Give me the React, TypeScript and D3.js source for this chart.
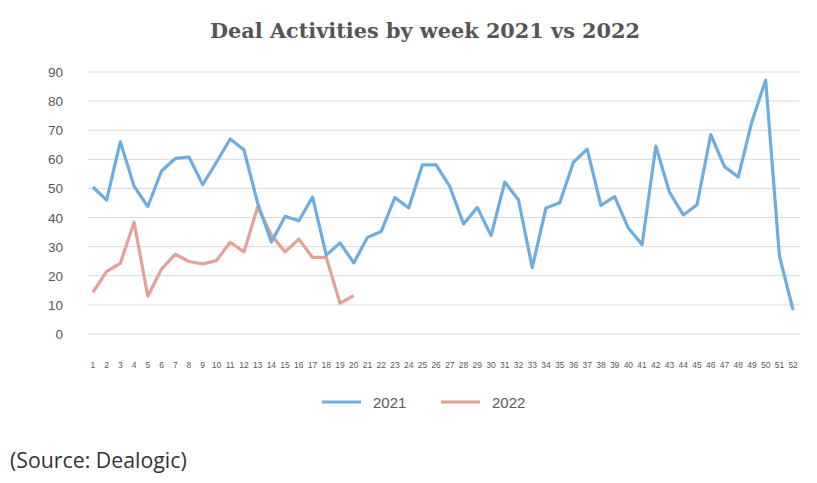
import { useEffect, useRef } from "react";
import * as d3 from "d3";

const weeks = d3.range(1, 53).map(String);

const deals2021 = [
  50.5, 46, 66, 50.8, 43.8, 56, 60.3, 60.8, 51.3, 59, 67, 63.3, 45, 31.6, 40.4,
  38.9, 47, 27.1, 31.3, 24.4, 33.2, 35.2, 46.9, 43.3, 58.1, 58.1, 50.6, 37.8,
  43.5, 33.8, 52.2, 46, 22.8, 43.3, 45.1, 59, 63.5, 44.2, 47.2, 36.4, 30.7,
  64.5, 48.7, 40.9, 44.4, 68.5, 57.5, 53.9, 73, 87.2, 26.8, 8.2,
];

const deals2022 = [
  14.3, 21.5, 24.3, 38.4, 13, 22.3, 27.4, 24.9, 24.1, 25.2, 31.5, 28.2, 43.6,
  34, 28.2, 32.6, 26.3, 26.3, 10.6, 13.2,
];

const yTicks = [0, 10, 20, 30, 40, 50, 60, 70, 80, 90];

const seriesList = [
  { name: "2021", values: deals2021, color: "#6dade0" },
  { name: "2022", values: deals2022, color: "#e4a197" },
];

const width = 817;
const height = 483;
const margin = { top: 72, right: 17, bottom: 149, left: 86 };

const App = () => {
  const svgRef = useRef<SVGSVGElement>(null);

  useEffect(() => {
    const svg = d3.select(svgRef.current);
    svg.selectAll("*").remove();

    const innerW = width - margin.left - margin.right;

    const xScale = d3
      .scaleBand()
      .domain(weeks)
      .range([margin.left, margin.left + innerW])
      .padding(0);

    const yScale = d3
      .scaleLinear()
      .domain([0, 90])
      .range([height - margin.bottom, margin.top]);

    const cx = (i: number) => (xScale(weeks[i]) ?? 0) + xScale.bandwidth() / 2;

    // Title
    svg
      .append("text")
      .attr("x", 425)
      .attr("y", 38)
      .attr("text-anchor", "middle")
      .attr("font-family", "'DejaVu Serif', serif")
      .attr("font-weight", "bold")
      .attr("font-size", 20)
      .attr("fill", "#555555")
      .attr("textLength", 430)
      .attr("lengthAdjust", "spacingAndGlyphs")
      .text("Deal Activities by week 2021 vs 2022");

    // Grid lines
    svg
      .append("g")
      .selectAll("line")
      .data(yTicks)
      .enter()
      .append("line")
      .attr("x1", 88)
      .attr("x2", 800)
      .attr("y1", (d) => yScale(d))
      .attr("y2", (d) => yScale(d))
      .attr("stroke", "#d9d9d9")
      .attr("stroke-width", 1);

    // Y labels
    svg
      .append("g")
      .selectAll("text")
      .data(yTicks)
      .enter()
      .append("text")
      .attr("x", 63)
      .attr("y", (d) => yScale(d) + 5)
      .attr("text-anchor", "end")
      .attr("font-family", "'Liberation Sans', Arial, sans-serif")
      .attr("font-size", 13.5)
      .attr("fill", "#595959")
      .text((d) => d);

    // X labels
    svg
      .append("g")
      .selectAll("text")
      .data(weeks)
      .enter()
      .append("text")
      .attr("x", (_d, i) => cx(i))
      .attr("y", 368)
      .attr("text-anchor", "middle")
      .attr("font-family", "'Liberation Sans', Arial, sans-serif")
      .attr("font-size", 8.5)
      .attr("fill", "#595959")
      .text((d) => d);

    // Lines
    const line = d3
      .line<number>()
      .x((_d, i) => cx(i))
      .y((d) => yScale(d));

    seriesList
      .slice()
      .reverse()
      .forEach((s) => {
        svg
          .append("path")
          .datum(s.values)
          .attr("d", line)
          .attr("fill", "none")
          .attr("stroke", s.color)
          .attr("stroke-width", 3.2)
          .attr("stroke-linejoin", "round");
      });

    // Legend
    const legend = svg.append("g");
    seriesList.forEach((s, i) => {
      const lx = 322 + i * 119;
      legend
        .append("line")
        .attr("x1", lx)
        .attr("x2", lx + 39)
        .attr("y1", 402)
        .attr("y2", 402)
        .attr("stroke", s.color)
        .attr("stroke-width", 3);
      legend
        .append("text")
        .attr("x", lx + 51)
        .attr("y", 408)
        .attr("font-family", "'Liberation Sans', Arial, sans-serif")
        .attr("font-size", 15)
        .attr("fill", "#595959")
        .text(s.name);
    });

    // Source
    svg
      .append("text")
      .attr("x", 10)
      .attr("y", 468)
      .attr("font-family", "'Open Sans', sans-serif")
      .attr("font-size", 21.3)
      .attr("fill", "#333333")
      .text("(Source: Dealogic)");
  }, []);

  return (
    <svg
      ref={svgRef}
      width={width}
      height={height}
      style={{ position: "absolute", left: 0, top: 0, background: "#ffffff" }}
    />
  );
};

export default App;
